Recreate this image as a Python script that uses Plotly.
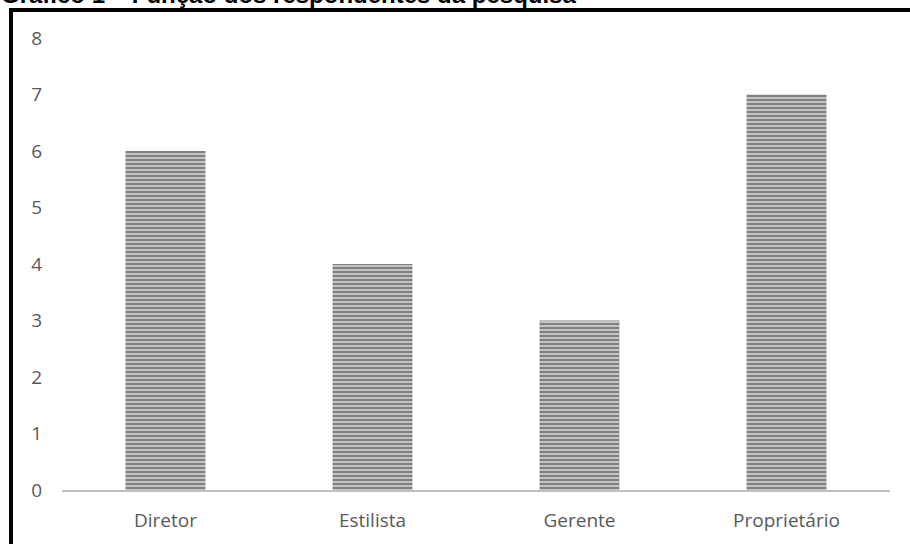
import plotly.graph_objects as go

categories = ["Diretor", "Estilista", "Gerente", "Proprietário"]
values = [6, 4, 3, 7]
y_ticks = [0, 1, 2, 3, 4, 5, 6, 7, 8]
title_text = "Gráfico 1 – Função dos respondentes da pesquisa"

W, H = 910, 544
ML, MR, MT, MB = 62, 20, 38, 54
PW, PH = W - ML - MR, H - MT - MB

def px_x(p):
    return (p - ML) / PW

def px_y(p):
    return (H - MB - p) / PH

fig = go.Figure(go.Bar(
    x=categories, y=values,
    marker=dict(
        color="#b0b0b0",
        line=dict(width=0),
        pattern=dict(shape="-", size=4, solidity=0.45, fgcolor="#787878",
                     bgcolor="#c4c4c4", fillmode="replace"),
    ),
    hoverinfo="x+y",
))

tick_font = dict(family="Open Sans, Noto Sans, sans-serif", size=19, color="#595959")

fig.update_layout(
    width=W, height=H,
    margin=dict(l=ML, r=MR, t=MT, b=MB, pad=0),
    paper_bgcolor="white", plot_bgcolor="white",
    bargap=0.614,
    showlegend=False,
    xaxis=dict(showgrid=False, zeroline=False, showline=True, linecolor="#bfbfbf",
               linewidth=2, ticks="", tickfont=tick_font, ticklabelstandoff=12),
    yaxis=dict(range=[0, 8], tickvals=y_ticks, showgrid=False, zeroline=False,
               showline=False, ticks="", tickfont=tick_font, ticklabelstandoff=19),
    shapes=[
        dict(type="path", xref="paper", yref="paper",
             path=f"M {px_x(11)} {px_y(560)} L {px_x(11)} {px_y(10)} L {px_x(930)} {px_y(10)}",
             line=dict(color="black", width=4), layer="above"),
    ],
    annotations=[
        dict(text=f"<b>{title_text}</b>", xref="paper", yref="paper",
             x=px_x(-1), y=px_y(10), xanchor="left", yanchor="bottom", showarrow=False,
             font=dict(family="Liberation Sans, Arial, sans-serif", size=24, color="black")),
    ],
)

fig.write_html("out.html")
